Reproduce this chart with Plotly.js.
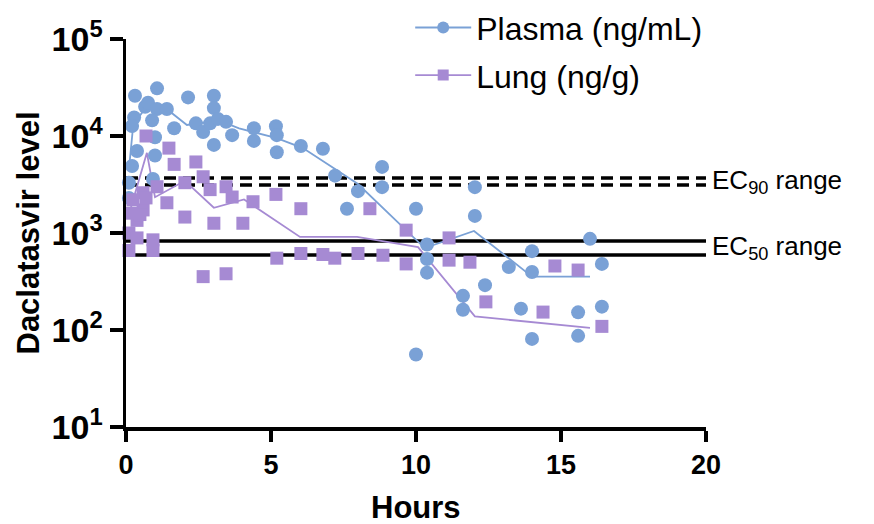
<!DOCTYPE html>
<html>
<head>
<meta charset="utf-8">
<script src="https://cdn.plot.ly/plotly-3.0.1.min.js"></script>
<style>html,body{margin:0;padding:0;background:#fff;}#chart{width:874px;height:524px;}</style>
</head>
<body>
<div id="chart"></div>
<script>
// Plasma (ng/mL) individual samples
const plasmaHours = [0.31,1.07,0.66,0.76,1.07,1.41,2.14,0.28,0.21,0.9,1.66,1.0,0.38,1.0,0.21,0.1,0.93,0.1,
  3.03,3.03,2.41,2.66,2.9,3.17,3.45,3.03,3.66,4.41,4.41,5.17,5.2,5.2,6.03,6.79,7.21,8.0,8.83,8.83,7.62,10.0,
  10.38,10.38,10.38,11.62,11.62,10.0,12.03,12.03,12.38,13.2,14.0,14.0,13.62,14.0,15.59,15.59,16.0,16.41,16.41];
const plasmaLevel = [26000,31000,20000,22000,19000,19000,25000,15500,12700,14500,12000,9700,7000,6300,4900,3300,3600,2300,
  26000,19400,13500,11000,13500,15000,14000,8100,10200,12000,8900,12600,10200,6800,7900,7400,3900,2700,4800,2970,1780,1780,
  760,540,390,225,162,56,2970,1500,290,445,650,396,166,81,152,87,870,480,174];
// Plasma mean line
const plasmaMeanHours = [0.1,0.25,0.7,1.4,2.1,2.8,3.2,3.9,5.2,6.1,8.0,10.3,12.0,14.0,16.0];
const plasmaMeanLevel = [4500,13000,20000,19000,13000,14000,14500,12000,9500,7500,3200,700,1050,355,355];

// Lung (ng/g) individual samples
const lungHours = [0.1,0.38,0.1,0.93,0.93,0.38,0.59,0.59,1.07,1.41,2.03,2.03,0.69,1.48,1.66,2.41,2.66,2.9,3.45,3.66,
  4.38,5.17,6.03,3.03,4.03,5.2,6.03,6.79,2.66,3.45,8.41,9.66,11.14,7.2,8.0,8.86,9.66,11.14,11.86,12.41,14.38,14.79,
  15.59,16.41,0.24,0.48,0.69,0.17];
const lungLevel = [1000,890,660,850,660,1350,1730,2600,3000,2050,1460,3300,10000,7500,5100,5400,3800,2800,3000,2350,
  2100,2500,1780,1260,1260,550,615,600,355,380,1780,1070,890,550,615,590,480,525,500,195,153,457,
  415,109,2200,1550,2300,1600];
// Lung mean line
const lungMeanHours = [0.1,0.72,1.0,2.03,3.03,4.07,6.0,7.97,10.07,12.03,16.0];
const lungMeanLevel = [1550,6700,2340,3450,1820,2220,910,910,715,138,105];

// Reference ranges
const ec90 = [3690, 3130];
const ec50 = [828, 593];
const refHours = [0, 20];
const seriesNames = ['Plasma (ng/mL)', 'Lung (ng/g)'];
const refLabels = ['EC<sub>90</sub> range', 'EC<sub>50</sub> range'];
const xTitle = 'Hours';
const yTitle = 'Daclatasvir level';
const xTicks = [0, 5, 10, 15, 20];
const yTicks = [10, 100, 1000, 10000, 100000];
const yTickText = ['10<sup>1</sup>', '10<sup>2</sup>', '10<sup>3</sup>', '10<sup>4</sup>', '10<sup>5</sup>'];

const blue = 'rgb(122,161,214)';
const purple = 'rgb(166,138,211)';
const FONT = 'Liberation Sans, Arial, sans-serif';

const traces = [];
ec90.forEach(v => traces.push({x: refHours, y: [v, v], mode: 'lines', showlegend: false, hoverinfo: 'skip',
  line: {color: '#000', width: 3.5, dash: '12px,7px'}}));
ec50.forEach(v => traces.push({x: refHours, y: [v, v], mode: 'lines', showlegend: false, hoverinfo: 'skip',
  line: {color: '#000', width: 3.5}}));

traces.push({x: plasmaMeanHours, y: plasmaMeanLevel, mode: 'lines', showlegend: false, line: {color: blue, width: 1.8}});
traces.push({x: lungMeanHours, y: lungMeanLevel, mode: 'lines', showlegend: false, line: {color: purple, width: 1.8}});
traces.push({x: plasmaHours, y: plasmaLevel, mode: 'markers', showlegend: false, cliponaxis: false,
  marker: {symbol: 'circle', size: 14, color: blue}});
traces.push({x: lungHours, y: lungLevel, mode: 'markers', showlegend: false, cliponaxis: false,
  marker: {symbol: 'square', size: 13, color: purple}});
// legend entries
traces.push({x: [null], y: [null], name: seriesNames[0], legendgroup: 'a', mode: 'lines+markers',
  line: {color: blue, width: 1.8}, marker: {symbol: 'circle', size: 12, color: blue}});
traces.push({x: [null], y: [null], name: seriesNames[1], legendgroup: 'b', mode: 'lines+markers',
  line: {color: purple, width: 1.8}, marker: {symbol: 'square', size: 11, color: purple}});

const layout = {
  width: 874, height: 524,
  margin: {l: 126, r: 168, t: 39, b: 97, autoexpand: false},
  paper_bgcolor: '#fff', plot_bgcolor: '#fff',
  font: {family: FONT, color: '#000'},
  showlegend: true,
  legend: {x: 0.49, xanchor: 'left', y: 1.1, yanchor: 'top', font: {size: 32, family: FONT},
    tracegroupgap: 3, itemwidth: 56, bgcolor: 'rgba(0,0,0,0)'},
  xaxis: {range: [0, 20], tickvals: xTicks, ticks: 'outside', ticklen: 11, tickwidth: 3.5,
    showline: true, linewidth: 3.5, linecolor: '#000', tickcolor: '#000', showgrid: false, zeroline: false,
    tickfont: {size: 27, weight: 'bold', family: FONT}},
  yaxis: {type: 'log', range: [1, 5], tickvals: yTicks, ticktext: yTickText, ticks: 'outside', ticklen: 13, tickwidth: 3.5,
    showline: true, linewidth: 3.5, linecolor: '#000', tickcolor: '#000', showgrid: false, zeroline: false,
    tickfont: {size: 34, weight: 'bold', family: FONT},
    title: {text: yTitle, font: {size: 31, weight: 'bold', family: FONT}, standoff: 4}},
  annotations: [
    {xref: 'paper', yref: 'y', x: 1.007, xanchor: 'left', y: (Math.log10(ec90[0]) + Math.log10(ec90[1])) / 2,
      text: refLabels[0], showarrow: false, font: {size: 26, family: FONT, color: '#000'}},
    {xref: 'paper', yref: 'y', x: 1.007, xanchor: 'left', y: (Math.log10(ec50[0]) + Math.log10(ec50[1])) / 2,
      text: refLabels[1], showarrow: false, font: {size: 26, family: FONT, color: '#000'}},
    {xref: 'paper', yref: 'paper', x: 0.5, xanchor: 'center', y: -0.207, yanchor: 'middle',
      text: '<b>' + xTitle + '</b>', showarrow: false, font: {size: 31, family: FONT, color: '#000'}}
  ]
};

Plotly.newPlot('chart', traces, layout, {displayModeBar: false, staticPlot: true});
</script>
</body>
</html>
